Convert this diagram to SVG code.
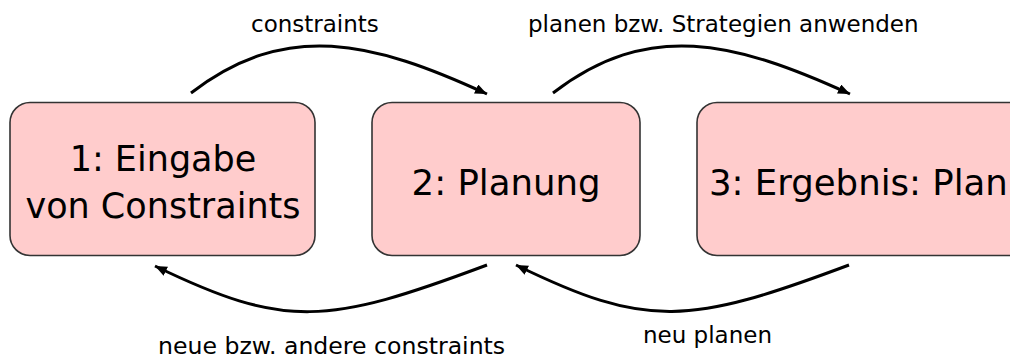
<svg xmlns="http://www.w3.org/2000/svg" width="1010" height="358" viewBox="0 0 1010 358">
<style>
.box{fill:#FFCCCC;stroke:#333333;stroke-width:1.6}
.big{font-family:"DejaVu Sans",Verdana,sans-serif;font-size:35px;fill:#000}
.lbl{font-family:"DejaVu Sans",Verdana,sans-serif;font-size:23px;fill:#000}
.con{fill:none;stroke:#000;stroke-width:3}
</style>
<defs>
<marker id="ah" markerUnits="userSpaceOnUse" markerWidth="14" markerHeight="12" refX="12" refY="5" orient="auto">
<path d="M0,0 L12,5 L0,10 Z" fill="#000"/>
</marker>
</defs>
<rect width="1010" height="358" fill="#fff"/>
<g id="node1">
<rect class="box" x="10" y="102.5" width="305" height="153" rx="20" ry="20"/>
<text class="big" x="163" y="171" text-anchor="middle">1: Eingabe</text>
<text class="big" x="163" y="218" text-anchor="middle">von Constraints</text>
</g>
<g id="node2">
<rect class="box" x="372" y="102.5" width="268" height="153" rx="20" ry="20"/>
<text class="big" x="506" y="195" text-anchor="middle" style="font-size:35.5px">2: Planung</text>
</g>
<g id="node3">
<rect class="box" x="697" y="102.5" width="340" height="153" rx="20" ry="20"/>
<text class="big" x="709" y="195" style="font-size:35.5px">3: Ergebnis: Plan</text>
</g>
<g id="connectors">
<path class="con" d="M191,93 C286,20 372,41 487,94" marker-end="url(#ah)"/>
<path class="con" d="M553,93 C648,20 734,41 850,94" marker-end="url(#ah)"/>
<path class="con" d="M487,265 C327,325 285,329 155,266" marker-end="url(#ah)"/>
<path class="con" d="M849,265 C689,325 647,329 516,265" marker-end="url(#ah)"/>
<text class="lbl" x="251" y="32">constraints</text>
<text class="lbl" x="528" y="32">planen bzw. Strategien anwenden</text>
<text class="lbl" x="158" y="354" style="font-size:23.6px">neue bzw. andere constraints</text>
<text class="lbl" x="643" y="343">neu planen</text>
</g>
</svg>
